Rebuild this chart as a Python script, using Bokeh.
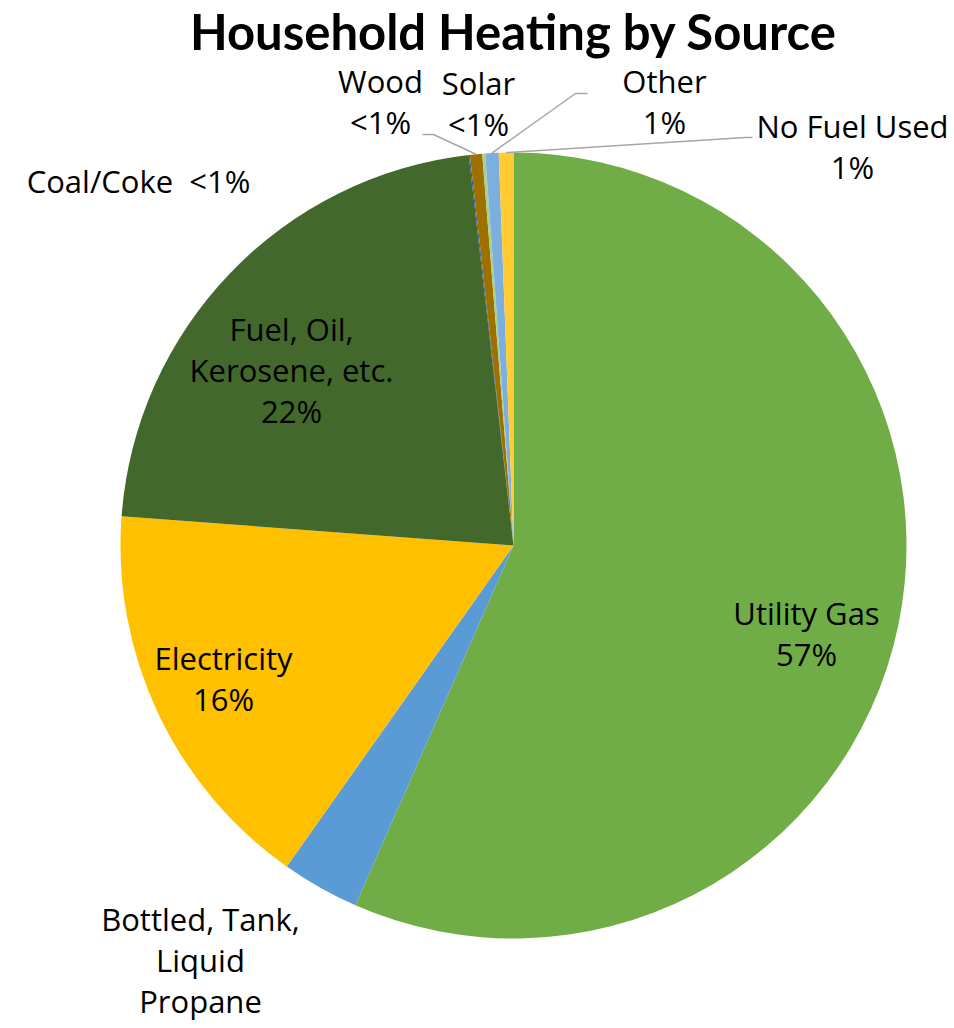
import math
from bokeh.plotting import figure
from bokeh.models import Range1d, ColumnDataSource
from bokeh.embed import file_html
from bokeh.resources import INLINE
from bokeh.core.properties import value

# ---- data ----
categories = ["Utility Gas", "Bottled, Tank, Liquid Propane", "Electricity",
              "Fuel, Oil, Kerosene, etc.", "Coal/Coke", "Wood", "Solar",
              "Other", "No Fuel Used"]
shares = [56.6, 3.2, 16.4, 22.0, 0.05, 0.5, 0.12, 0.55, 0.6]
pct_labels = ["57%", "3%", "16%", "22%", "<1%", "<1%", "<1%", "1%", "1%"]
name_lines = [["Utility Gas"], ["Bottled, Tank,", "Liquid", "Propane"],
              ["Electricity"], ["Fuel, Oil,", "Kerosene, etc."], [],
              ["Wood"], ["Solar"], ["Other"], ["No Fuel Used"]]
colors = ["#70AD47", "#5B9BD5", "#FFC000", "#43682B", "#255E91",
          "#9E7000", "#A9D18E", "#7CAFDD", "#FFCD33"]
title_text = "Household Heating by Source"

# ---- layout (pixels from top-left) ----
W, H = 954, 1028
CX, CY, R = 513, 545, 393
FONT = "Open Sans"
FS = 31
LINE_GAP = 41
label_pos = [(806, 612), (200, 918), (223, 657), (291, 328), (138, 180),
             (380, 80), (478, 82), (664, 80), (852, 125)]
leader_elbows = {5: [(433, 134), (422, 134)],
                 7: [(575, 93), (587, 93)],
                 8: [(745, 137), (752, 137)]}

def fy(py):
    return H - py

p = figure(width=W, height=H, x_range=Range1d(0, W), y_range=Range1d(0, H),
           output_backend="svg", toolbar_location=None, min_border=0)
p.axis.visible = False
p.grid.visible = False
p.outline_line_color = None
p.background_fill_color = "white"
p.border_fill_color = "white"

total = sum(shares)
starts, ends, mids = [], [], []
cum = 0.0
for s in shares:
    a0 = math.pi / 2 - 2 * math.pi * cum / total
    cum += s
    a1 = math.pi / 2 - 2 * math.pi * cum / total
    starts.append(a0)
    ends.append(a1)
    mids.append((a0 + a1) / 2)

src = ColumnDataSource(dict(x=[CX] * len(shares), y=[fy(CY)] * len(shares),
                            start=starts, end=ends, color=colors, cat=categories))
p.wedge(x="x", y="y", radius=R, radius_units="data", start_angle="start",
        end_angle="end", direction="clock", fill_color="color", line_color=None,
        source=src)

# leader lines
for i, pts in leader_elbows.items():
    sx = CX + R * math.cos(mids[i])
    sy = fy(CY) + R * math.sin(mids[i])
    xs = [sx] + [q[0] for q in pts]
    ys = [sy] + [fy(q[1]) for q in pts]
    p.line(xs, ys, line_color="#A6A6A6", line_width=1.5)

# labels
tx, ty, tt = [], [], []
for i, cat in enumerate(categories):
    lx, ly = label_pos[i]
    if cat == "Coal/Coke":
        lines = ["Coal/Coke\u00a0\u00a0" + pct_labels[i]]
    else:
        lines = name_lines[i] + [pct_labels[i]]
    for k, line in enumerate(lines):
        tx.append(lx)
        ty.append(fy(ly + k * LINE_GAP))
        tt.append(line)
p.text(x=tx, y=ty, text=tt, text_font=value(FONT), text_font_size=f"{FS}px",
       text_align="center", text_baseline="middle", text_color="#000000")

p.text(x=[CX], y=[fy(30)], text=[title_text], text_font=value("Lato"),
       text_font_size="49px", text_font_style="bold", text_align="center",
       text_baseline="middle", text_color="#000000")

open("out.html", "w").write(file_html(p, INLINE))
